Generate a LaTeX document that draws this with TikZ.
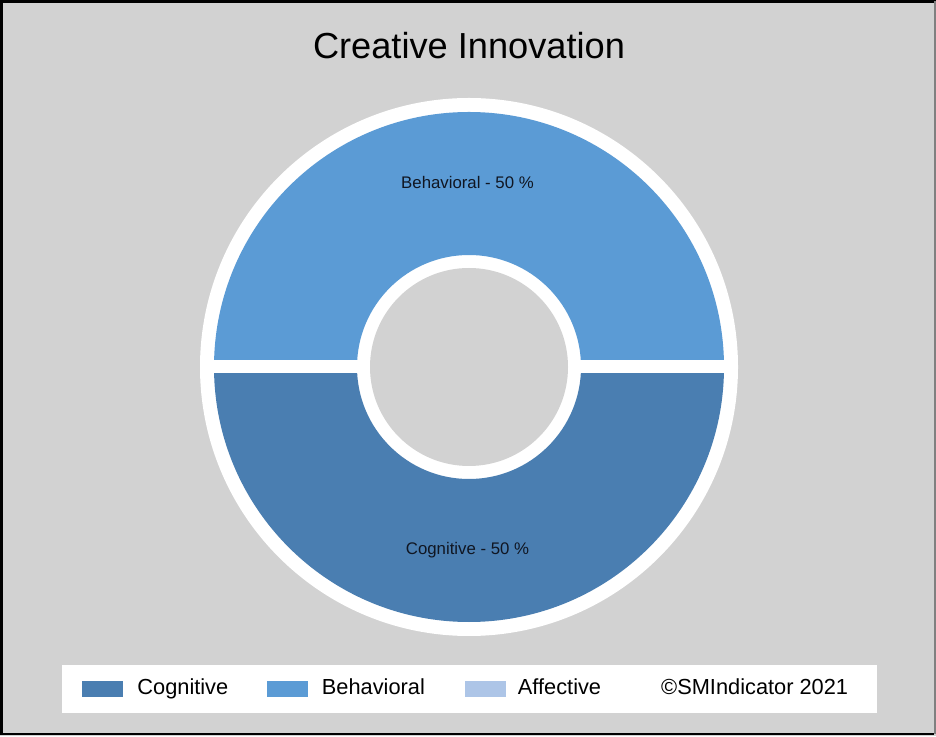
\documentclass[tikz,border=0pt]{standalone}
\usepackage{fontspec}
\setmainfont{Liberation Sans}
\usepackage{tikz}
\usetikzlibrary{positioning, calc}
\definecolor{bggray}{RGB}{210,210,210}
\definecolor{cogblue}{RGB}{74,126,177}
\definecolor{behblue}{RGB}{91,155,213}
\definecolor{affblue}{RGB}{173,197,231}
\definecolor{inkdark}{RGB}{16,22,34}
\tikzstyle{swatch} = [rectangle, inner sep = 0pt, minimum width = 41pt, minimum height = 16pt]
\tikzstyle{legtext} = [anchor = west, inner sep = 0pt, text height = 15pt, text depth = 4pt, font = \fontsize{21.8}{24}\selectfont, text = black]
\tikzstyle{slicelabel} = [inner sep = 0pt, font = \fontsize{16.8}{19}\selectfont, text = inkdark]

\begin{document}
\begin{tikzpicture}[x=1pt, y=1pt]
			\useasboundingbox (0,0) rectangle (936,736);
			\fill [bggray] (0,0) rectangle (936,736);
			% frame
			\draw [black, line width = 3pt] (1.5,1.5) -- (1.5,734.5) -- (936,734.5);
			\draw [black, line width = 2pt] (1.5,2) -- (934,2);
			\draw [gray, line width = 1.5pt] (935,2) -- (935,734.5);
			
			\node [font = \fontsize{36.2}{40}\selectfont] (title) at (469,690) {Creative Innovation};
			
			% donut
			\coordinate (c) at (469,369);
			\fill [white] (c) circle [radius = 269];
			\fill [behblue] (c) ++(255,0) arc [start angle = 0, end angle = 180, radius = 255] -- ++(143,0) arc [start angle = 180, end angle = 0, radius = 112] -- cycle;
			\fill [cogblue] (c) ++(255,0) arc [start angle = 0, end angle = -180, radius = 255] -- ++(143,0) arc [start angle = -180, end angle = 0, radius = 112] -- cycle;
			\fill [white] ($(c)+(-262,-6.5)$) rectangle ($(c)+(262,6.5)$);
			\fill [bggray] (c) circle [radius = 99];
			
			\node [slicelabel] (behlabel) at (467.5,553) {Behavioral - 50 \%};
			\node [slicelabel] (coglabel) at (467.5,186) {Cognitive - 50 \%};
			
			% legend
			\fill [white] (62,23) rectangle (877,71);
			\node [swatch, fill = cogblue] (cogsw) at (102.5,47) {};
			\node [legtext, right = 14pt of cogsw] (cogtext) {Cognitive};
			\node [swatch, fill = behblue] (behsw) at (287,47) {};
			\node [legtext, right = 14pt of behsw] (behtext) {Behavioral};
			\node [swatch, fill = affblue] (affsw) at (485,47) {};
			\node [legtext, right = 12pt of affsw] (afftext) {Affective};
			\node [legtext] (copy) at (661,47) {©SMIndicator 2021};
		\end{tikzpicture}
\end{document}
